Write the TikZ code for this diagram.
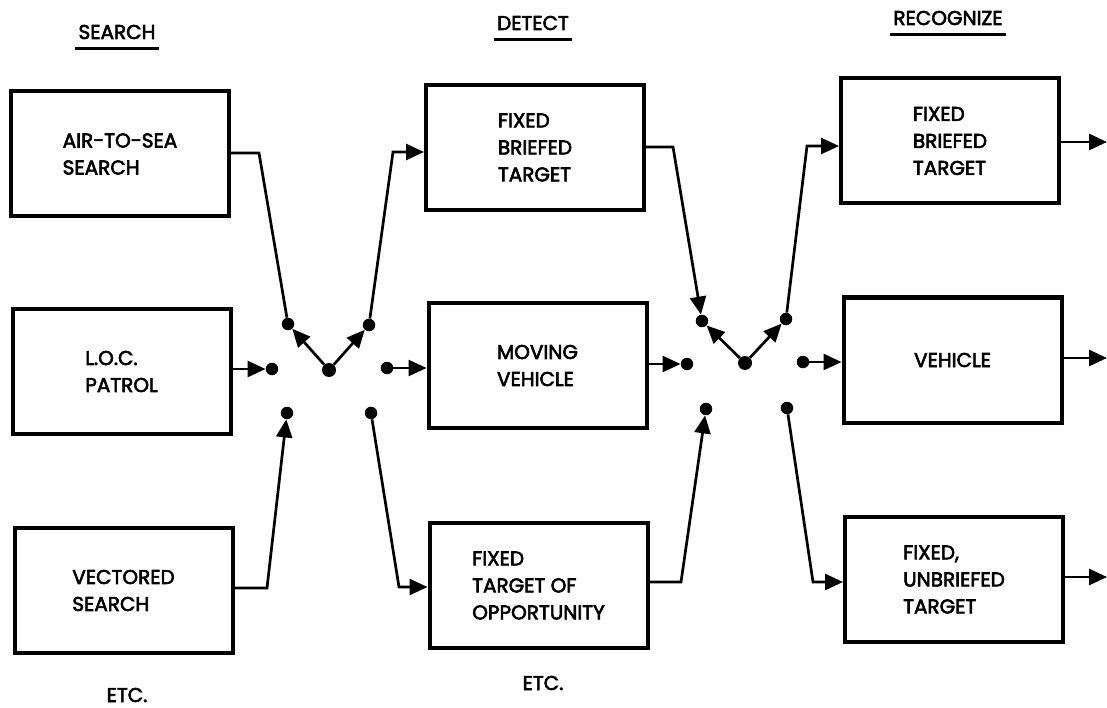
\documentclass[tikz,border=0pt]{standalone}
\usepackage{fontspec}
\setmainfont{Poppins}[FakeBold=3]
\usetikzlibrary{arrows.meta}
\tikzset{
  box/.style={draw, line width=4pt, minimum width=218pt, minimum height=125pt,
    align=left, inner sep=0pt, font=\fontsize{20}{27}\selectfont},
  dot/.style={circle, fill, inner sep=0pt, minimum size=12.5pt},
  hub/.style={circle, fill, inner sep=0pt, minimum size=14pt},
  conn/.style={line width=2.7pt, line join=miter},
  arr/.style={conn, -{Triangle[length=18pt,width=16pt]}},
  head/.style={font=\fontsize{20}{24}\selectfont, inner sep=0pt},
  uline/.style={line width=2.7pt},
}
\begin{document}
\begin{tikzpicture}[x=1pt,y=-1pt]
\useasboundingbox (0,0) rectangle (1107,708);
% headings
\node[head] (hs) at (117,32) {SEARCH};
\node[head] (hd) at (533,23) {DETECT};
\node[head] (hr) at (948,18) {RECOGNIZE};
\draw[uline] ([shift={(-3pt,-9pt)}]hs.south west) -- ([shift={(3pt,-9pt)}]hs.south east);
\draw[uline] ([shift={(-3pt,-9pt)}]hd.south west) -- ([shift={(3pt,-9pt)}]hd.south east);
\draw[uline] ([shift={(-3pt,-9pt)}]hr.south west) -- ([shift={(3pt,-9pt)}]hr.south east);
% boxes
\node[box] (air) at (120,154) {AIR-TO-SEA\\SEARCH};
\node[box] (loc) at (121.5,371.5) {L.O.C.\\PATROL};
\node[box] (vec) at (123.5,590.5) {VECTORED\\SEARCH};
\node[box] (dfbt) at (535,147.5) {FIXED\\BRIEFED\\TARGET};
\node[box] (mv) at (537.5,365.5) {MOVING\\VEHICLE};
\node[box] (fto) at (538.5,585.5) {FIXED\\TARGET OF\\OPPORTUNITY};
\node[box] (rfbt) at (950,141) {FIXED\\BRIEFED\\TARGET};
\node[box] (veh) at (952.5,360) {VEHICLE};
\node[box] (fut) at (954,579.5) {FIXED,\\UNBRIEFED\\TARGET};
\node[head] (e1) at (127,695) {ETC.};
\node[head] (e2) at (543,683) {ETC.};
% junction 1
\node[dot] (aul) at (288,324) {};
\node[hub] (ahub) at (329,370) {};
\node[dot] (aur) at (369,325) {};
\node[dot] (al) at (272,369) {};
\node[dot] (ar) at (387,368) {};
\node[dot] (abl) at (287,413) {};
\node[dot] (abr) at (371,413) {};
% junction 2
\node[dot] (bul) at (702,321) {};
\node[hub] (bhub) at (745,363) {};
\node[dot] (bur) at (786,319) {};
\node[dot] (bl) at (687,364) {};
\node[dot] (br) at (803,362) {};
\node[dot] (bbl) at (706,409) {};
\node[dot] (bbr) at (787,408) {};
% bends
\coordinate (k1) at (259,153);
\coordinate (k2) at (393,152);
\coordinate (k3) at (267,588);
\coordinate (k4) at (399,587);
\coordinate (k5) at (673,147);
\coordinate (k6) at (807,146);
\coordinate (k7) at (681,582);
\coordinate (k8) at (813,582);
\coordinate (o1) at (1107,142);
\coordinate (o2) at (1107,358);
\coordinate (o3) at (1107,577);
% connectors, junction 1
\draw[conn] (air.east |- k1) -- (k1) -- (aul);
\draw[arr] (ahub) -- (aul);
\draw[arr] (ahub) -- (aur);
\draw[arr] (aur) -- (k2) -- (dfbt.west |- k2);
\draw[arr] (loc.east |- al) -- (al);
\draw[arr] (ar) -- (mv.west |- ar);
\draw[arr] (vec.east |- k3) -- (k3) -- (abl);
\draw[arr] (abr) -- (k4) -- (fto.west |- k4);
% connectors, junction 2
\draw[arr] (dfbt.east |- k5) -- (k5) -- (bul);
\draw[arr] (bhub) -- (bul);
\draw[arr] (bhub) -- (bur);
\draw[arr] (bur) -- (k6) -- (rfbt.west |- k6);
\draw[arr] (mv.east |- bl) -- (bl);
\draw[arr] (br) -- (veh.west |- br);
\draw[arr] (fto.east |- k7) -- (k7) -- (bbl);
\draw[arr] (bbr) -- (k8) -- (fut.west |- k8);
% outputs
\draw[arr] (rfbt.east |- o1) -- (o1);
\draw[arr] (veh.east |- o2) -- (o2);
\draw[arr] (fut.east |- o3) -- (o3);
\end{tikzpicture}
\end{document}
